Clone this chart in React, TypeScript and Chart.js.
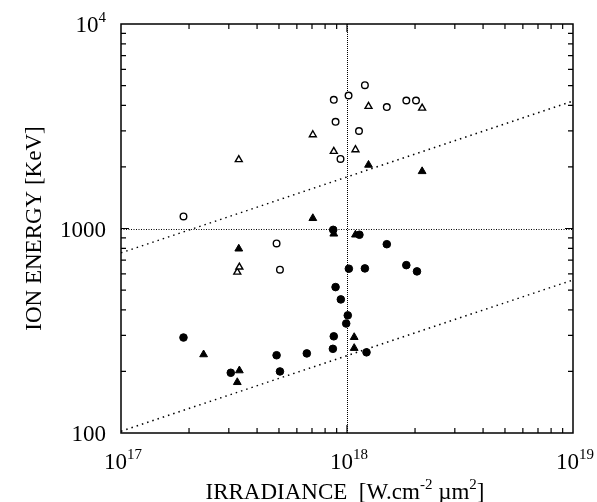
import React, { useEffect, useRef } from "react";
import { Chart, registerables } from "chart.js";
Chart.register(...registerables);

// ---- data ----
const openCircleX = [1.89e17, 4.88e17, 5.05e17, 8.74e17, 8.9e17, 9.36e17, 1.016e18, 1.13e18, 1.2e18, 1.5e18, 1.83e18, 2.02e18];
const openCircleY = [1145, 845, 629, 4260, 3325, 2188, 4470, 2998, 5020, 3925, 4227, 4227];

const openTriangleX = [3.27e17, 3.34e17, 3.32e17, 7.06e17, 8.74e17, 1.09e18, 1.245e18, 2.15e18];
const openTriangleY = [612, 648, 2172, 2874, 2384, 2428, 3955, 3880];

const filledCircleX = [1.89e17, 3.06e17, 4.88e17, 5.05e17, 6.64e17, 8.66e17, 8.74e17, 8.69e17, 8.9e17, 9.39e17, 9.92e17, 1.008e18, 1.019e18, 1.135e18, 1.2e18, 1.22e18, 1.5e18, 1.83e18, 2.04e18];
const filledCircleY = [293, 197, 240, 200, 245, 258, 297, 985, 517, 450, 343, 376, 636, 932, 638, 248, 838, 662, 617];

const filledTriangleX = [2.32e17, 3.27e17, 3.34e17, 3.32e17, 7.06e17, 8.74e17, 1.076e18, 1.076e18, 1.09e18, 1.245e18, 2.15e18];
const filledTriangleY = [242, 177, 202, 796, 1122, 942, 260, 294, 932, 2045, 1903];

const upperLineX = [1e17, 1e19];
const upperLineY = [760, 4200];
const lowerLineX = [1e17, 1e19];
const lowerLineY = [102, 560];

// ---- axes ----
const xMin = 1e17, xMax = 1e19, yMin = 100, yMax = 1e4;
const xTickValues = [1e17, 1e18, 1e19];
const xTickLabels: [string, string][] = [["10", "17"], ["10", "18"], ["10", "19"]];
const yTickValues = [100, 1000, 10000];
const yTickLabels: [string, string][] = [["100", ""], ["1000", ""], ["10", "4"]];
const xGridValues = [1e18];
const yGridValues = [1000];
const minorMultipliers = [1, 2, 3, 4, 5, 6, 7, 8, 9];
const xTitle: [string, boolean][] = [["IRRADIANCE  [W.cm", false], ["-2", true], [" \u00b5m", false], ["2", true], ["]", false]];
const yTitle = "ION ENERGY [KeV]";

const FONT = '"Liberation Serif", "DejaVu Serif", serif';
const MAIN = 23;
const SUP = 15;

const pts = (xs: number[], ys: number[]) => xs.map((x, i) => ({ x, y: ys[i] }));

function drawParts(ctx: CanvasRenderingContext2D, parts: [string, boolean][], x: number, y: number, align: "left" | "center" | "right", size = MAIN, sup = SUP) {
  const widths = parts.map(([t, s]) => {
    ctx.font = `${s ? sup : size}px ${FONT}`;
    return ctx.measureText(t).width;
  });
  const total = widths.reduce((a, b) => a + b, 0);
  let cx = align === "left" ? x : align === "center" ? x - total / 2 : x - total;
  ctx.textAlign = "left";
  ctx.textBaseline = "alphabetic";
  parts.forEach(([t, s], i) => {
    ctx.font = `${s ? sup : size}px ${FONT}`;
    ctx.fillText(t, cx, s ? y - size * 0.42 : y);
    cx += widths[i];
  });
}

const framePlugin = {
  id: "frame",
  beforeDatasetsDraw(chart: any) {
    const { ctx, chartArea: a, scales } = chart;
    const xs = scales.x, ys = scales.y;
    ctx.save();
    ctx.strokeStyle = "#000";
    ctx.lineWidth = 1;
    ctx.setLineDash([1, 1]);
    xGridValues.forEach((v) => {
      const px = Math.round(xs.getPixelForValue(v)) + 0.5;
      ctx.beginPath();
      ctx.moveTo(px, a.top);
      ctx.lineTo(px, a.bottom);
      ctx.stroke();
    });
    ctx.setLineDash([1, 1.5]);
    yGridValues.forEach((v) => {
      const py = Math.round(ys.getPixelForValue(v)) + 0.5;
      ctx.beginPath();
      ctx.moveTo(a.left, py);
      ctx.lineTo(a.right, py);
      ctx.stroke();
    });
    ctx.restore();
  },
  afterDraw(chart: any) {
    const { ctx, chartArea: a, scales } = chart;
    const xs = scales.x, ys = scales.y;
    ctx.save();
    ctx.strokeStyle = "#000";
    ctx.fillStyle = "#000";
    ctx.lineWidth = 1.5;
    ctx.strokeRect(a.left, a.top, a.right - a.left, a.bottom - a.top);
    ctx.lineWidth = 1.2;
    for (let d = 17; d < 19; d++) {
      minorMultipliers.forEach((m) => {
        const v = m * Math.pow(10, d);
        if (v <= xMin || v >= xMax) return;
        const len = m === 1 ? 8 : 5;
        const px = xs.getPixelForValue(v);
        ctx.beginPath();
        ctx.moveTo(px, a.bottom);
        ctx.lineTo(px, a.bottom - len);
        ctx.moveTo(px, a.top);
        ctx.lineTo(px, a.top + len);
        ctx.stroke();
      });
    }
    for (let d = 2; d < 4; d++) {
      minorMultipliers.forEach((m) => {
        const v = m * Math.pow(10, d);
        if (v <= yMin || v >= yMax) return;
        const len = m === 1 ? 8 : 5;
        const py = ys.getPixelForValue(v);
        ctx.beginPath();
        ctx.moveTo(a.left, py);
        ctx.lineTo(a.left + len, py);
        ctx.moveTo(a.right, py);
        ctx.lineTo(a.right - len, py);
        ctx.stroke();
      });
    }
    xTickValues.forEach((v, i) => {
      const px = xs.getPixelForValue(v);
      const [b, e] = xTickLabels[i];
      drawParts(ctx, [[b, false], [e, true]], px + 2, a.bottom + 36, "center");
    });
    yTickValues.forEach((v, i) => {
      const py = ys.getPixelForValue(v);
      const [b, e] = yTickLabels[i];
      const parts: [string, boolean][] = e ? [[b, false], [e, true]] : [[b, false]];
      drawParts(ctx, parts, a.left - 15, py + 8, "right");
    });
    drawParts(ctx, xTitle, (a.left + a.right) / 2 - 2, a.bottom + 66, "center");
    ctx.translate(41, (a.top + a.bottom) / 2);
    ctx.rotate(-Math.PI / 2);
    drawParts(ctx, [[yTitle, false]], 0, 0, "center");
    ctx.restore();
  },
};

export default function App() {
  const ref = useRef<HTMLCanvasElement>(null);
  useEffect(() => {
    document.body.style.margin = "0";
    const canvas = ref.current!;
    const lineStyle = {
      showLine: true,
      borderColor: "#000",
      borderWidth: 1.5,
      borderDash: [1.5, 4],
      pointRadius: 0,
      fill: false,
    };
    const chart = new Chart(canvas, {
      type: "scatter",
      data: {
        datasets: [
          { data: pts(openCircleX, openCircleY), pointStyle: "circle", pointRadius: 3.3, backgroundColor: "#fff", borderColor: "#000", borderWidth: 1.4 },
          { data: pts(openTriangleX, openTriangleY), pointStyle: "triangle", pointRadius: 4, backgroundColor: "#fff", borderColor: "#000", borderWidth: 1.4 },
          { data: pts(filledCircleX, filledCircleY), pointStyle: "circle", pointRadius: 3.8, backgroundColor: "#000", borderColor: "#000", borderWidth: 1 },
          { data: pts(filledTriangleX, filledTriangleY), pointStyle: "triangle", pointRadius: 4.5, backgroundColor: "#000", borderColor: "#000", borderWidth: 1 },
          { data: pts(upperLineX, upperLineY), ...lineStyle },
          { data: pts(lowerLineX, lowerLineY), ...lineStyle },
        ] as any,
      },
      options: {
        responsive: false,
        animation: false,
        events: [],
        layout: { padding: { left: 121, right: 24, top: 24, bottom: 69 } },
        plugins: { legend: { display: false }, tooltip: { enabled: false }, title: { display: false } },
        scales: {
          x: { type: "logarithmic", min: xMin, max: xMax, display: false },
          y: { type: "logarithmic", min: yMin, max: yMax, display: false },
        },
      },
      plugins: [framePlugin],
    });
    return () => chart.destroy();
  }, []);
  return <canvas ref={ref} width={597} height={502} style={{ display: "block", background: "#fff" }} />;
}
